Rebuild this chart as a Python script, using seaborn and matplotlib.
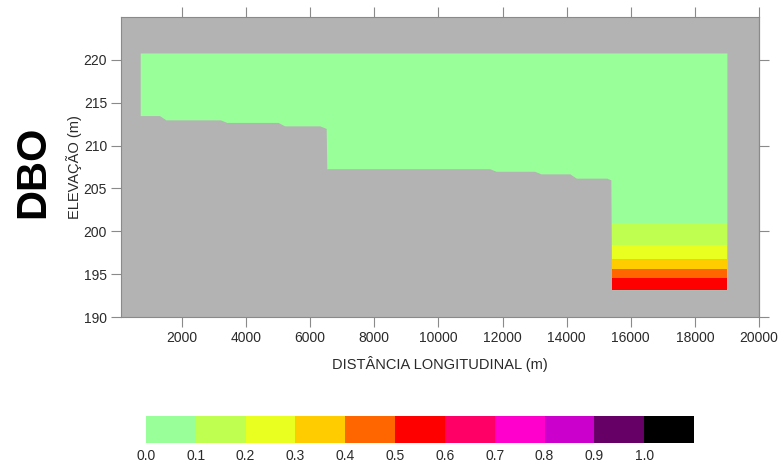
import matplotlib
matplotlib.use("Agg")
import numpy as np
import matplotlib.pyplot as plt
from matplotlib.colors import ListedColormap, BoundaryNorm
import seaborn as sns

# Reservoir bed profile: distance along the river (m) and bottom elevation (m)
bed_dist = [700, 1300, 1500, 3200, 3400, 5000, 5200, 6300, 6500, 6520,
            11600, 11800, 13000, 13200, 14100, 14300, 15250, 15380, 15400, 19000]
bed_elev = [213.5, 213.5, 213.0, 213.0, 212.7, 212.7, 212.3, 212.3, 212.0, 207.3,
            207.3, 207.0, 207.0, 206.7, 206.7, 206.2, 206.2, 206.0, 193.2, 193.2]
water_level = 220.8
water_dbo = 0.05

# Stratified BOD layers close to the dam
layer_x = [15400, 19000]
layer_top = [201.0, 198.45, 196.8, 195.6, 194.6]
layer_base = [198.45, 196.8, 195.6, 194.6, 193.2]
layer_dbo = [0.15, 0.25, 0.35, 0.45, 0.55]

# Colour classes of the scale
class_colors = ["#99ff99", "#bfff50", "#e8ff20", "#ffcc00", "#ff6600", "#ff0000",
                "#ff0066", "#ff00cc", "#cc00cc", "#660066", "#000000"]
class_bounds = [0.0, 0.1, 0.2, 0.3, 0.4, 0.5, 0.6, 0.7, 0.8, 0.9, 1.0, 1.1]
scale_labels = ["0.0", "0.1", "0.2", "0.3", "0.4", "0.5", "0.6", "0.7", "0.8", "0.9", "1.0"]

x_ticks = [2000, 4000, 6000, 8000, 10000, 12000, 14000, 16000, 18000, 20000]
y_ticks = [190, 195, 200, 205, 210, 215, 220]

sns.set_style("ticks")
plt.rcParams["font.family"] = ["Liberation Sans", "DejaVu Sans"]

cmap = ListedColormap(class_colors)
norm = BoundaryNorm(class_bounds, cmap.N)

text_color = "#2a2a2a"
frame_color = "#8a8a8a"

fig = plt.figure(figsize=(7.79, 4.63), dpi=100)
ax = fig.add_axes([121 / 779, 1 - 317 / 463, 638 / 779, 300 / 463])
ax.set_facecolor("#b3b3b3")

# Water body
ax.fill_between(bed_dist, bed_elev, water_level, color=cmap(norm(water_dbo)),
                linewidth=0)
# Layers
for top, base, val in zip(layer_top, layer_base, layer_dbo):
    ax.fill_between(layer_x, [base, base], [top, top], color=cmap(norm(val)),
                    linewidth=0)

ax.set_xlim(100, 20000)
ax.set_ylim(190, 225)
ax.set_xticks(x_ticks)
ax.set_yticks(y_ticks)
ax.tick_params(axis="both", direction="out", length=7, width=0.8,
               color=frame_color, labelcolor=text_color, labelsize=10, pad=3)
ax.tick_params(axis="x", top=True)
for sp in ax.spines.values():
    sp.set_visible(True)
    sp.set_color(frame_color)
    sp.set_linewidth(0.8)

right = ax.secondary_yaxis("right")
right.set_yticks([190, 200, 210, 220])
right.tick_params(direction="out", length=7, width=0.8, color=frame_color,
                  labelright=False)
right.spines["right"].set_color(frame_color)
right.spines["right"].set_linewidth(0.8)

ax.set_xlabel("DISTÂNCIA LONGITUDINAL (m)", fontsize=10.5, color=text_color,
              labelpad=8)
ax.set_ylabel("ELEVAÇÃO (m)", fontsize=10.5, color=text_color, labelpad=1)

fig.text(33 / 779, 1 - 172 / 463, "DBO", rotation=90, ha="center", va="center",
         fontsize=30, fontweight="bold", color="black")

# Colour scale
cax = fig.add_axes([146 / 779, 1 - 443 / 463, 548 / 779, 27 / 463])
scale_vals = np.array([[(a + b) / 2 for a, b in zip(class_bounds[:-1], class_bounds[1:])]])
sns.heatmap(scale_vals, ax=cax, cmap=cmap, norm=norm, cbar=False,
            xticklabels=False, yticklabels=False)
cax.set_xticks(np.arange(len(scale_labels)))
cax.set_xticklabels(scale_labels, fontsize=10, color=text_color)
cax.tick_params(axis="x", length=0, pad=4, bottom=True)
cax.tick_params(axis="y", length=0)
cax.set_xlabel("")
cax.set_ylabel("")

fig.savefig("out.png", dpi=100)
